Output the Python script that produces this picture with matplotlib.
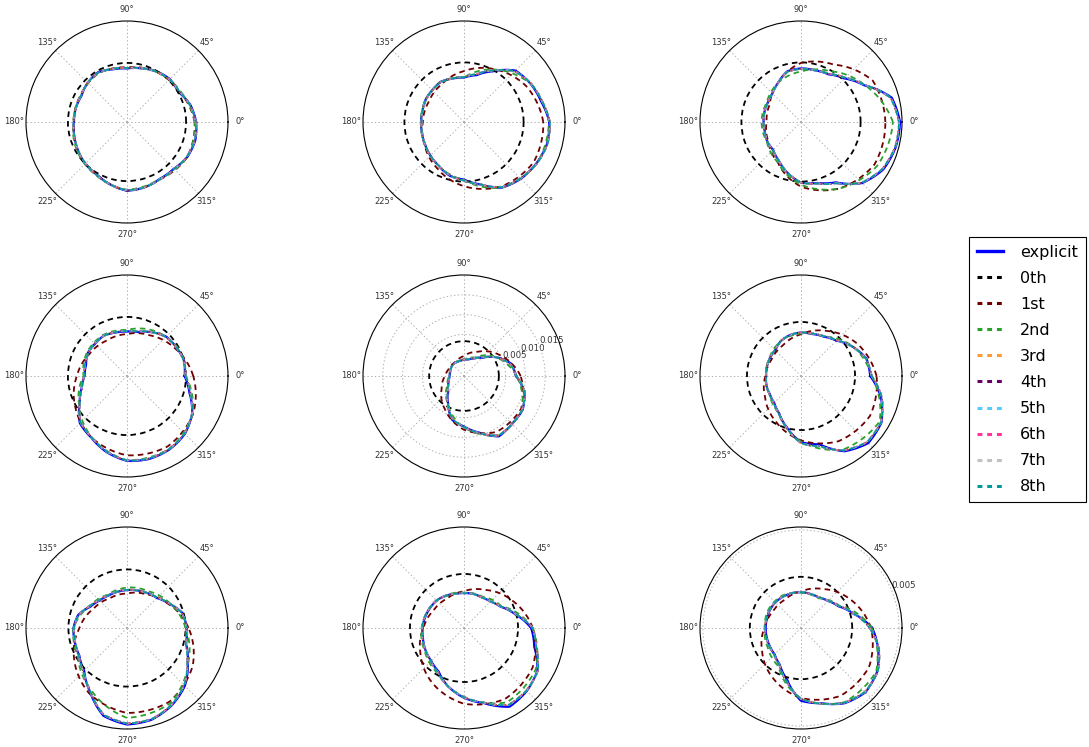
import numpy as np
import matplotlib
matplotlib.use("Agg")
import matplotlib.pyplot as plt
from matplotlib.lines import Line2D

plt.rcParams["lines.scale_dashes"] = False

# ---- data: radius (x 1e-3) vs angle, panels in row-major order -------------
DEG24 = np.arange(0, 360, 15)
DEG12 = np.arange(0, 360, 30)

R_LIM = [(0, 10), (0, 10), (0, 10), (0, 10), (-5.5, 20), (0, 10), (0, 10), (0, 10), (0, 5.15)]
R_TICKS = [[], [], [], [], [5, 10, 15], [], [], [], [5]]

ZEROTH = [5.85, 5.9, 5.9, 5.85, 3.30, 5.35, 5.8, 5.35, 2.61]

EXPLICIT = [
    [6.84, 6.5, 5.9, 6.0, 5.8, 5.5, 5.3, 5.4, 5.7, 5.5, 5.2, 5.25,
     5.25, 5.4, 5.6, 5.85, 6.0, 6.4, 6.8, 6.7, 6.5, 6.55, 6.9, 7.0],
    [8.45, 7.9, 7.6, 7.2, 5.8, 4.8, 4.4, 4.45, 4.6, 4.45, 4.4, 4.25,
     4.25, 4.3, 4.45, 4.7, 5.0, 5.5, 5.7, 6.4, 7.5, 7.95, 8.25, 8.5],
    [9.8, 9.3, 7.25, 6.1, 5.45, 5.3, 5.3, 5.2, 4.5, 4.0, 3.8, 3.75,
     3.7, 3.7, 3.85, 3.9, 4.4, 5.2, 6.0, 6.25, 6.9, 8.55, 9.4, 9.7],
    [5.7, 5.85, 5.65, 5.5, 5.0, 4.5, 4.4, 4.45, 4.6, 4.5, 4.5, 4.2,
     4.2, 4.65, 5.4, 6.6, 7.05, 7.8, 8.4, 8.5, 8.4, 8.1, 7.45, 6.4],
    [7.63, 6.74, 3.94, 1.00, -0.40, -1.17, -1.42, -1.55, -1.50, -1.42, -1.68, -1.88,
     -1.90, -1.57, -0.91, 0.11, 2.53, 5.98, 7.25, 9.29, 12.10, 11.59, 11.59, 10.31],
    [6.85, 6.7, 5.85, 4.95, 4.5, 4.3, 4.3, 4.2, 4.0, 3.6, 3.55, 3.5,
     3.45, 3.55, 3.57, 3.75, 4.3, 5.3, 6.55, 7.0, 8.6, 9.4, 9.2, 8.2],
    [5.9, 5.7, 4.8, 4.2, 4.0, 3.85, 3.75, 3.7, 3.7, 3.85, 4.2, 5.0,
     5.3, 5.35, 5.45, 6.0, 7.3, 9.0, 9.55, 9.4, 8.85, 8.1, 6.95, 6.05],
    [6.65, 5.25, 4.2, 3.7, 3.5, 3.5, 3.45, 3.5, 3.67, 3.85, 3.9, 4.0,
     4.1, 4.2, 4.4, 4.6, 5.0, 6.0, 6.9, 7.7, 9.0, 8.8, 8.4, 7.2],
    [3.63, 2.78, 2.21, 1.95, 1.80, 1.80, 1.83, 1.83, 1.84, 1.85, 1.83, 1.80,
     1.80, 1.81, 1.84, 1.90, 2.16, 2.73, 3.71, 3.97, 4.43, 4.64, 4.48, 4.07],
]

# 3rd..8th order solutions lie almost on top of each other
HIGHER = [
    [6.8, 6.45, 6.0, 5.95, 5.75, 5.5, 5.35, 5.45, 5.65, 5.5, 5.25, 5.25,
     5.3, 5.4, 5.6, 5.8, 6.05, 6.4, 6.75, 6.7, 6.55, 6.6, 6.85, 6.95],
    [8.5, 8.0, 7.65, 7.1, 5.9, 4.9, 4.45, 4.45, 4.55, 4.45, 4.35, 4.25,
     4.2, 4.3, 4.45, 4.7, 5.0, 5.45, 5.8, 6.4, 7.45, 7.9, 8.3, 8.55],
    [9.7, 9.2, 7.3, 6.2, 5.5, 5.3, 5.25, 5.15, 4.5, 4.0, 3.8, 3.75,
     3.7, 3.72, 3.85, 3.95, 4.4, 5.2, 6.0, 6.3, 7.0, 8.5, 9.3, 9.65],
    [5.8, 5.85, 5.65, 5.45, 5.0, 4.55, 4.45, 4.5, 4.6, 4.55, 4.45, 4.3,
     4.25, 4.6, 5.4, 6.5, 7.0, 7.75, 8.35, 8.45, 8.35, 8.05, 7.45, 6.5],
    [7.76, 6.49, 3.94, 1.13, -0.40, -1.11, -1.37, -1.50, -1.50, -1.47, -1.68, -1.80,
     -1.85, -1.55, -0.91, 0.24, 2.66, 5.72, 7.38, 9.42, 11.84, 11.71, 11.46, 10.44],
    [7.0, 6.65, 5.85, 5.0, 4.55, 4.35, 4.3, 4.2, 4.0, 3.65, 3.55, 3.5,
     3.47, 3.55, 3.6, 3.8, 4.35, 5.35, 6.65, 7.2, 8.5, 9.25, 9.15, 8.3],
    [5.9, 5.65, 4.85, 4.25, 4.0, 3.85, 3.78, 3.72, 3.75, 3.9, 4.3, 4.95,
     5.25, 5.3, 5.5, 6.1, 7.25, 8.9, 9.45, 9.35, 8.8, 8.0, 6.9, 6.0],
    [6.8, 5.3, 4.25, 3.7, 3.5, 3.5, 3.45, 3.5, 3.65, 3.85, 3.95, 4.05,
     4.15, 4.25, 4.4, 4.65, 5.1, 6.0, 6.85, 7.65, 8.8, 8.75, 8.45, 7.4],
    [3.50, 2.81, 2.24, 1.96, 1.81, 1.80, 1.83, 1.84, 1.85, 1.86, 1.85, 1.83,
     1.83, 1.84, 1.86, 1.93, 2.19, 2.83, 3.61, 3.99, 4.40, 4.61, 4.51, 4.12],
]

FIRST = [
    [6.7, 6.0, 5.75, 5.4, 5.6, 5.3, 5.25, 5.65, 6.0, 6.8, 6.55, 6.9],
    [7.85, 7.11, 6.04, 5.04, 4.34, 4.02, 4.07, 4.50, 5.30, 6.36, 7.37, 7.96],
    [8.35, 8.2, 6.55, 5.85, 4.5, 3.55, 3.4, 3.75, 4.6, 6.4, 7.6, 8.4],
    [6.56, 5.48, 4.63, 4.15, 4.04, 4.31, 4.96, 5.94, 7.03, 7.85, 8.05, 7.55],
    [8.81, 5.01, 1.56, -0.45, -1.32, -1.39, -0.73, 1.00, 4.16, 8.07, 10.82, 11.13],
    [7.48, 6.42, 5.15, 4.13, 3.53, 3.34, 3.52, 4.11, 5.11, 6.37, 7.45, 7.89],
    [6.09, 4.74, 3.84, 3.41, 3.40, 3.82, 4.71, 6.05, 7.48, 8.41, 8.42, 7.51],
    [6.81, 5.48, 4.34, 3.64, 3.36, 3.48, 4.01, 4.98, 6.28, 7.50, 8.11, 7.84],
    [3.57, 2.91, 2.29, 1.86, 1.66, 1.66, 1.86, 2.29, 2.91, 3.57, 4.00, 4.00],
]

SECOND = [
    [6.7, 6.1, 5.8, 5.3, 5.6, 5.3, 5.3, 5.7, 6.1, 6.7, 6.5, 6.9],
    [8.4, 7.6, 6.0, 4.4, 4.6, 4.35, 4.25, 4.45, 5.0, 5.75, 7.5, 8.3],
    [9.1, 7.3, 5.8, 5.0, 4.5, 3.9, 3.9, 3.9, 4.6, 6.2, 7.6, 8.7],
    [5.8, 5.75, 5.2, 4.55, 4.7, 4.6, 4.3, 5.5, 7.0, 8.35, 8.35, 7.5],
    [7.76, 3.94, -0.15, -1.29, -1.42, -1.68, -1.80, -0.66, 2.66, 7.50, 11.84, 11.46],
    [7.0, 5.9, 4.5, 4.2, 4.0, 3.6, 3.45, 3.6, 4.3, 6.5, 8.4, 9.0],
    [5.8, 4.9, 4.2, 4.0, 3.8, 4.3, 5.3, 5.6, 7.1, 8.9, 8.6, 7.0],
    [6.8, 4.3, 3.6, 3.5, 3.7, 3.9, 4.2, 4.5, 5.2, 6.8, 8.5, 8.2],
    [3.61, 2.27, 1.75, 1.80, 1.91, 1.91, 1.85, 1.96, 2.27, 3.61, 4.38, 4.43],
]

LABELS = ["explicit", "0th", "1st", "2nd", "3rd", "4th", "5th", "6th", "7th", "8th"]
COLORS = ["#0000ff", "#000000", "#700000", "#2ca02c", "#ff9933",
          "#660066", "#55ccff", "#ff3399", "#c0c0c0", "#009999"]
DASH = (4, 3)


def polar_line(ax, deg, r, lw=1.3, **kw):
    th = np.deg2rad(np.append(deg, 360))
    rr = np.append(r, r[0]) * 1e-3
    line, = ax.plot(th, rr, lw=lw, **kw)
    # let the polar transform follow theta between samples (arcs, not chords)
    line.get_path()._interpolation_steps = 24
    return line


fig = plt.figure(figsize=(10.89, 7.47), dpi=100)
W, H = 1089, 747
centers_x = [127, 464, 801]
centers_y = [122, 376, 628]
rad = 101

for i in range(9):
    cx, cy = centers_x[i % 3], centers_y[i // 3]
    ax = fig.add_axes([(cx - rad) / W, 1 - (cy + rad) / H, 2 * rad / W, 2 * rad / H],
                      projection="polar")

    polar_line(ax, DEG24, EXPLICIT[i], lw=1.6, color=COLORS[0])
    polar_line(ax, DEG12, np.full(12, ZEROTH[i]), color=COLORS[1], linestyle=(0, DASH))
    polar_line(ax, DEG12, FIRST[i], color=COLORS[2], linestyle=(0, DASH))
    polar_line(ax, DEG12, SECOND[i], color=COLORS[3], linestyle=(0, DASH))
    # staggered dash offsets so the overlapping higher orders all show through
    for k in range(6):
        polar_line(ax, DEG24, HIGHER[i], lw=1.2, color=COLORS[4 + k],
                   linestyle=(k * 0.45, DASH))

    lo, hi = R_LIM[i]
    ax.set_ylim(lo * 1e-3, hi * 1e-3)
    ax.set_thetagrids(range(0, 360, 45), [f"{a}°" for a in range(0, 360, 45)],
                      fontsize=6, color="#333333")
    ax.set_yticks([t * 1e-3 for t in R_TICKS[i]])
    ax.set_yticklabels([f"{t * 1e-3:.3f}" for t in R_TICKS[i]], fontsize=6.2,
                       color="#333333")
    ax.set_rlabel_position(22.5)
    ax.grid(True, color="#b0b0b0", linestyle=":", linewidth=0.7)
    ax.spines["polar"].set_linewidth(0.8)
    ax.tick_params(axis="x", pad=-2)

handles = [Line2D([], [], color=COLORS[0], lw=2.4)]
handles += [Line2D([], [], color=c, lw=2.2, linestyle=(0, (3.5, 3.5))) for c in COLORS[1:]]
leg = fig.legend(handles, LABELS, loc="upper left",
                 bbox_to_anchor=(969 / W, 1 - 237 / H), borderaxespad=0,
                 fontsize=11.5, fancybox=False, framealpha=1, edgecolor="black",
                 handlelength=1.6, labelspacing=0.69, borderpad=0.5, handletextpad=1.1)
leg.get_frame().set_linewidth(0.8)

fig.savefig("out.png", dpi=100)
